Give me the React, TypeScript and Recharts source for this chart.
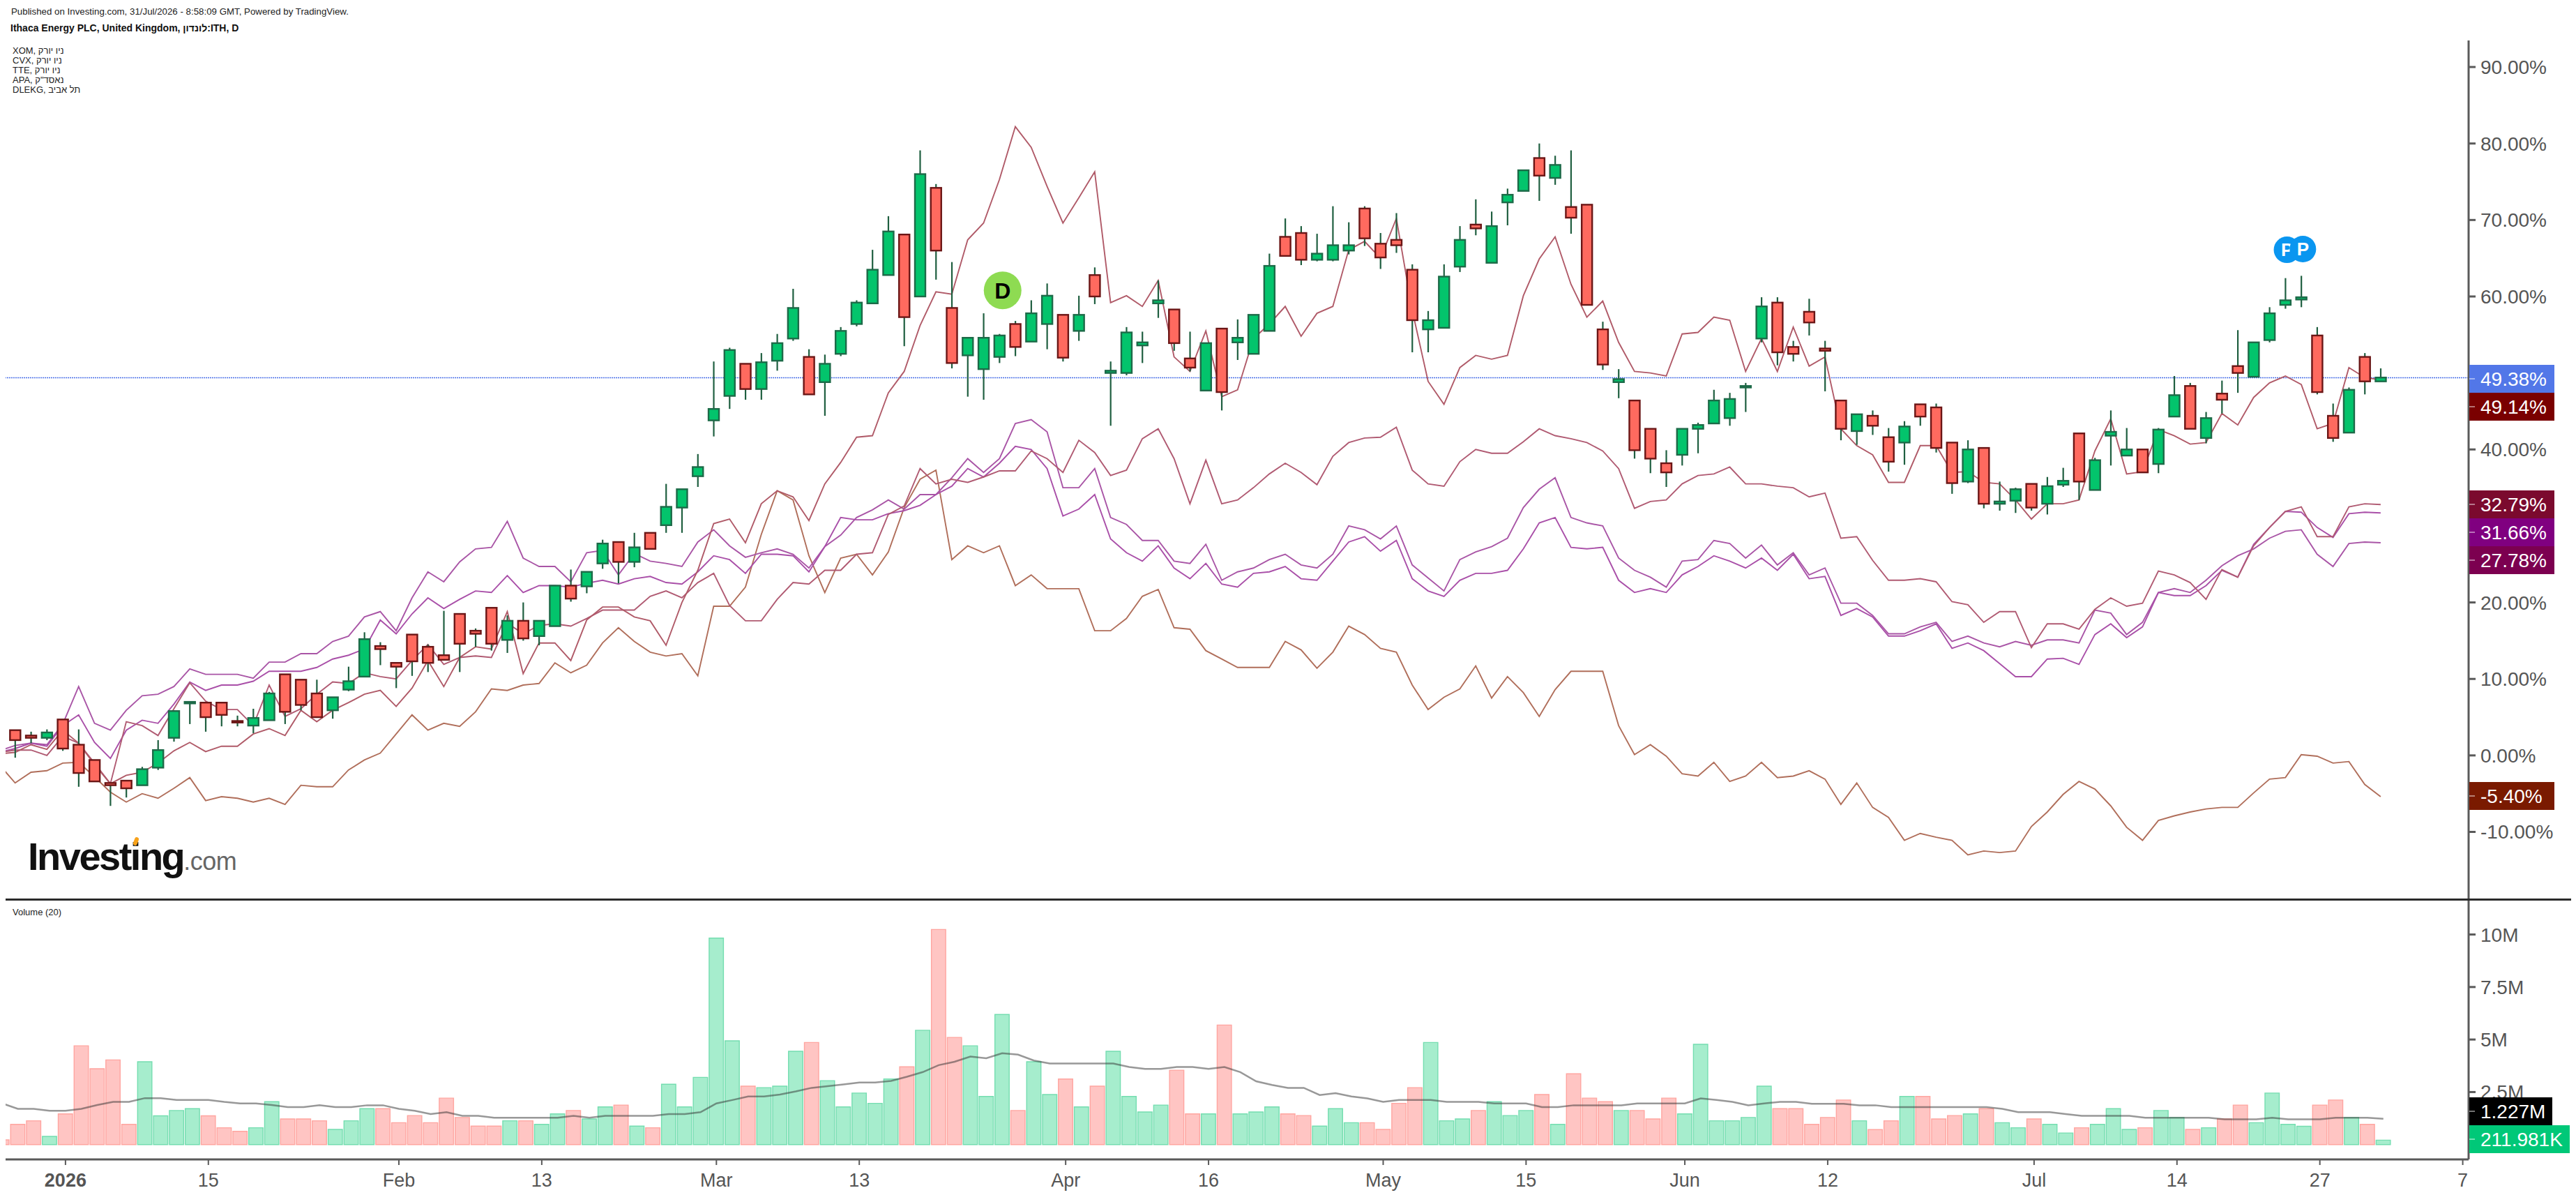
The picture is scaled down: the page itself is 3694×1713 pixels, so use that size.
import {
  ComposedChart,
  Bar,
  Line,
  Cell,
  XAxis,
  YAxis,
  ReferenceLine,
  ReferenceDot,
} from "recharts";

const FONT = '"Liberation Sans", Arial, sans-serif';
const AXIS = "#5a5a5a";
const TEXT = "#555555";
const UP = "#03c46c";
const UP_EDGE = "#1d6a48";
const DOWN = "#ff6a5f";
const DOWN_EDGE = "#6b1616";
const WICK = "#1f5f40";

// ── Candles, index 0..149 ────────────────────────────────────────
const opens = [
  3.3,2.6,2.3,4.7,1.4,-0.6,-3.6,-3.3,-3.9,-1.6,
  2.3,6.8,6.9,6.9,4.5,3.9,4.6,10.6,9.9,8.1,
  5.9,8.6,10.3,14.3,12.1,15.8,14.2,13.1,18.5,16.3,
  19.3,15.1,17.6,15.6,16.9,22.2,22.1,25.1,27.9,25.3,
  29.1,30.1,32.4,36.5,43.8,47.0,51.2,47.9,51.6,54.5,
  52.1,48.8,52.5,56.4,59.1,62.8,68.1,60.0,74.2,58.5,
  52.3,50.5,52.1,56.4,54.1,56.4,57.6,55.5,62.8,50.0,
  50.0,53.6,59.1,58.3,51.9,47.7,55.8,54.0,52.5,55.5,
  67.8,68.3,64.8,64.8,66.0,71.5,66.9,67.4,63.5,55.7,
  55.9,63.9,69.4,64.4,72.3,73.8,78.1,75.5,71.7,72.0,
  55.7,48.8,46.4,42.7,38.2,39.3,42.7,43.4,44.1,48.1,
  54.5,59.2,53.4,58.0,53.2,46.4,42.4,44.4,41.6,40.9,
  45.9,45.5,40.9,35.8,40.2,32.9,33.3,35.5,32.9,35.4,
  42.1,34.7,41.8,39.2,40.0,38.1,44.3,48.3,41.5,47.3,
  50.9,49.5,54.3,58.9,59.6,54.9,44.4,42.2,52.1,48.9,
];
const closes = [
  2.0,2.3,3.0,0.9,-2.3,-3.4,-3.9,-4.3,-1.8,0.7,
  5.8,7.0,5.0,5.3,4.3,4.9,8.1,5.7,6.6,5.0,
  7.6,9.7,15.2,13.9,11.6,12.3,12.1,12.5,14.6,15.9,
  14.6,17.6,15.3,17.6,22.2,20.5,24.0,27.7,25.3,27.2,
  27.0,32.5,34.8,37.7,45.3,53.0,47.9,51.4,53.9,58.5,
  47.2,51.2,55.5,59.2,63.5,68.5,57.3,76.0,66.0,51.3,
  54.6,54.6,54.9,53.4,57.8,60.1,52.0,57.6,60.0,50.3,
  55.3,54.0,59.5,53.9,50.7,53.9,47.5,54.6,57.6,64.0,
  65.3,64.8,65.6,66.7,66.7,67.6,65.1,66.7,56.9,56.9,
  62.6,67.4,68.9,69.2,73.3,76.5,75.8,77.2,70.3,58.9,
  51.1,49.2,39.9,38.8,37.0,42.7,43.2,46.4,46.6,48.3,
  58.7,52.7,52.5,56.6,52.9,42.7,44.6,43.1,38.4,43.0,
  44.3,40.2,35.6,40.0,32.9,33.2,34.8,32.4,35.2,35.9,
  35.8,38.6,42.3,40.0,37.0,42.6,47.1,42.7,44.1,46.5,
  50.0,54.0,57.8,59.5,59.9,47.5,41.5,47.8,48.9,49.4,
];
const highs = [
  3.3,3.1,3.4,4.7,3.4,-0.6,-3.6,-3.3,-1.5,2.0,
  5.9,7.0,6.9,6.9,5.2,6.1,8.3,10.6,9.9,9.9,
  7.6,11.6,16.1,14.8,12.1,15.8,14.5,18.9,18.5,16.6,
  19.3,18.3,20.0,17.6,22.2,24.3,24.0,28.2,27.9,29.1,
  29.1,35.5,34.8,39.4,51.5,53.3,51.2,52.6,55.1,61.0,
  53.1,52.4,56.0,59.5,66.1,70.5,68.1,79.1,74.7,64.5,
  54.6,57.8,55.1,56.8,59.5,61.7,57.6,60.1,63.8,51.5,
  56.0,55.4,62.1,58.3,55.4,53.9,55.8,57.0,57.6,65.6,
  70.2,69.2,68.2,71.8,69.7,71.8,68.3,70.9,64.2,58.1,
  64.2,69.2,72.7,71.1,74.1,76.5,80.0,78.4,79.1,72.0,
  56.7,50.5,46.4,42.7,39.9,42.7,43.5,47.8,47.4,48.7,
  59.9,59.9,54.2,59.7,54.2,46.4,44.6,45.1,42.8,43.7,
  45.9,46.0,40.9,41.2,40.2,35.8,35.0,35.5,36.4,37.6,
  42.1,38.9,45.1,42.8,40.0,42.8,49.6,48.7,44.9,49.0,
  55.6,54.0,58.6,62.4,62.7,56.0,46.0,48.1,52.6,50.6,
];
const lows = [
  -0.3,1.6,2.0,0.6,-4.1,-3.4,-6.6,-5.5,-3.9,-1.9,
  1.8,4.1,3.1,3.8,3.8,2.9,4.6,4.1,5.9,5.0,
  4.8,8.4,10.3,11.8,8.8,10.4,10.9,12.5,10.9,14.2,
  13.7,13.4,15.0,14.4,16.9,20.1,21.2,24.4,22.5,24.6,
  27.0,29.1,29.1,35.1,41.7,45.3,46.5,46.5,50.3,54.2,
  47.2,44.4,52.2,56.1,59.1,62.8,53.5,60.0,62.2,50.6,
  46.9,46.5,51.3,52.2,54.1,53.1,51.5,54.2,59.0,43.1,
  49.7,51.3,57.2,52.9,50.2,47.7,45.1,51.7,52.5,55.5,
  65.3,64.1,64.6,64.6,65.5,66.6,63.6,65.7,52.7,52.7,
  55.9,63.2,68.0,64.4,69.3,73.8,72.5,74.6,68.2,58.9,
  50.4,46.7,38.8,36.9,35.1,37.9,39.5,43.4,43.1,44.9,
  54.0,51.0,51.5,54.9,47.6,41.2,40.6,41.9,37.1,38.0,
  43.1,39.6,34.2,35.6,32.3,32.0,31.7,32.0,31.5,35.1,
  33.4,34.7,37.9,39.2,37.0,36.9,44.3,42.7,40.8,44.7,
  47.4,49.5,54.0,58.4,58.6,47.2,41.0,42.2,47.2,48.9,
];

// ── Comparison lines, index -1..149 (% change) ───────────────────
const dlekg = [
  0.2,
  0.4,1.4,0.8,3.3,1.6,-1.2,-3.7,-2.6,-2.2,-1.0,
  0.6,1.7,0.5,1.2,1.2,2.8,3.5,2.6,5.9,4.4,
  5.9,6.9,8.0,8.5,6.4,8.8,12.4,9.0,12.8,14.2,
  13.9,18.8,10.7,14.7,14.7,12.4,17.7,19.4,19.4,18.1,
  17.6,14.4,20.0,24.2,30.3,30.9,27.8,32.9,34.6,33.8,
  30.7,35.5,38.3,41.6,41.8,47.4,50.2,56.2,60.6,60.3,
  67.4,69.6,75.3,82.2,79.5,74.4,69.6,72.9,76.3,59.2,
  60.1,58.7,62.1,52.1,50.2,55.5,46.9,47.8,54.5,56.4,
  58.7,54.8,57.8,58.7,66.1,67.2,65.0,70.2,58.2,48.9,
  45.9,50.7,52.3,51.8,52.3,60.1,64.9,67.8,61.6,57.3,
  59.4,54.0,50.2,50.0,49.6,55.1,55.3,57.3,56.9,50.2,
  54.5,50.2,56.0,50.9,52.1,42.7,40.5,39.3,35.7,35.7,
  40.5,40.5,37.0,37.1,35.7,35.5,33.4,30.9,32.9,32.9,
  33.4,39.8,44.0,36.8,37.1,42.6,41.8,40.7,40.9,44.7,
  43.2,46.8,48.7,49.6,48.5,42.7,43.4,50.7,49.4,49.1,
];
const apa = [
  0.4,
  0.7,0.7,0.0,2.5,1.6,-1.0,-3.7,4.4,3.9,2.6,
  6.1,9.5,7.1,6.0,6.0,3.9,9.2,5.1,6.1,8.0,
  9.6,9.4,10.8,10.3,10.0,12.4,14.5,11.9,12.8,13.0,
  12.8,17.3,15.9,17.0,17.2,16.9,17.9,19.0,19.0,19.0,
  20.8,21.5,20.6,22.6,23.8,19.6,17.6,17.6,20.4,22.6,
  22.4,24.2,24.2,26.3,26.5,31.5,32.6,37.5,35.5,36.1,
  35.7,36.4,37.2,37.2,39.8,38.8,37.0,41.2,39.6,36.6,
  37.3,41.4,42.7,38.8,32.9,38.6,32.9,33.4,35.0,36.8,
  38.2,37.0,35.4,39.1,40.9,41.5,41.6,42.9,37.3,35.5,
  35.2,38.4,40.0,39.5,39.5,41.0,42.7,41.8,41.4,40.9,
  39.8,37.5,32.3,33.2,33.4,35.5,36.6,36.8,37.7,35.5,
  35.5,35.2,35.0,33.8,34.3,28.4,28.6,25.5,22.9,22.9,
  23.1,22.7,20.1,19.7,17.4,18.8,18.8,14.1,17.2,17.2,
  16.5,19.1,20.6,19.5,19.9,24.1,23.6,22.6,20.4,24.3,
  23.3,27.4,29.8,31.9,32.5,28.6,28.6,32.5,32.9,32.8,
];
const xom = [
  0.6,
  1.3,1.6,1.4,4.1,9.0,4.2,3.3,5.9,7.8,8.0,
  9.0,11.3,10.6,10.6,10.6,10.1,12.2,12.2,13.3,13.3,
  14.9,15.6,18.1,18.8,16.3,20.6,24.0,22.7,25.3,27.0,
  27.2,30.6,25.8,24.7,24.7,22.7,26.5,26.8,23.6,26.4,
  25.4,25.1,24.7,27.9,29.5,27.4,25.9,26.5,27.0,26.3,
  24.5,27.3,28.8,31.1,32.1,33.4,32.2,34.1,34.1,36.3,
  38.8,37.0,38.8,43.4,43.9,42.3,35.0,35.0,37.5,31.1,
  30.2,28.1,28.1,25.4,25.1,27.6,22.9,24.0,24.5,25.6,
  26.3,24.9,24.5,26.3,30.0,29.5,28.3,30.0,24.9,23.2,
  21.5,25.6,26.6,27.3,28.4,32.4,34.8,36.3,31.1,30.4,
  30.0,25.8,24.2,23.3,22.0,25.4,25.6,28.1,27.7,25.8,
  27.5,24.9,26.5,23.6,24.5,19.9,19.9,18.3,15.9,15.9,
  16.8,17.4,14.9,15.6,14.7,14.2,14.9,14.4,15.1,15.1,
  14.7,19.0,18.6,15.8,17.4,21.3,21.8,21.3,22.9,24.8,
  26.1,27.0,28.4,29.3,29.5,26.3,24.7,27.7,27.9,27.8,
];
const cvx = [
  0.4,
  0.9,1.6,1.2,3.9,5.3,1.7,-0.4,3.3,4.6,4.2,
  6.7,9.6,8.5,9.2,9.2,9.7,11.0,11.0,11.0,11.5,
  12.6,13.1,13.9,17.7,15.9,18.5,20.6,19.2,20.4,21.5,
  21.3,23.5,21.3,22.2,22.2,22.0,22.5,22.9,22.4,23.1,
  23.4,22.6,22.4,24.0,26.1,25.6,23.8,26.3,26.3,26.1,
  24.0,27.3,31.1,30.8,30.8,31.6,32.0,32.7,34.1,35.2,
  37.5,36.4,38.2,40.4,40.0,37.5,31.3,32.2,34.1,28.3,
  26.5,25.4,27.4,24.5,23.1,25.1,22.4,22.0,23.8,24.0,
  24.7,23.1,22.9,25.4,27.9,28.6,26.7,28.1,23.1,21.5,
  20.8,22.9,23.8,23.8,24.2,27.0,30.4,31.1,27.2,27.0,
  27.2,22.9,21.3,21.8,21.3,23.6,24.7,26.1,25.4,24.5,
  25.8,24.2,26.3,23.1,23.4,18.3,19.2,18.1,15.6,15.6,
  16.3,17.2,14.0,14.7,13.7,12.0,10.3,10.3,12.6,12.7,
  11.9,15.8,17.2,15.4,16.8,21.3,20.9,20.9,22.2,24.2,
  23.3,27.6,29.8,31.9,31.8,29.8,28.5,31.6,31.8,31.7,
];
const tte = [
  -1.2,
  -3.6,-2.2,-2.0,-1.0,-0.9,-2.8,-4.8,-6.1,-5.0,-5.6,
  -4.3,-2.9,-5.9,-5.4,-5.6,-6.1,-5.6,-6.4,-3.9,-4.1,
  -4.1,-1.9,-0.6,0.3,2.8,5.3,3.3,4.2,3.8,5.7,
  8.7,8.5,9.2,9.4,12.1,10.8,11.8,14.7,16.7,14.9,
  13.5,13.0,13.3,10.4,19.5,19.5,22.0,28.9,34.6,33.4,
  26.1,21.3,25.8,26.3,23.6,26.6,32.4,36.1,37.3,25.6,
  27.4,26.5,27.4,22.2,23.6,21.8,21.8,21.8,16.3,16.3,
  17.9,20.8,21.7,16.7,16.5,13.7,12.6,11.5,11.5,11.5,
  14.9,13.8,11.4,13.5,16.9,15.8,14.0,13.5,9.2,6.0,
  7.6,8.7,11.7,7.5,10.3,8.2,5.1,8.6,11.0,11.0,
  11.0,3.9,0.1,1.4,-0.1,-2.4,-2.7,-0.9,-3.4,-2.7,
  -0.9,-2.9,-2.7,-2.0,-3.1,-6.4,-3.6,-6.8,-8.1,-11.1,
  -10.2,-10.7,-11.1,-13.0,-12.5,-12.7,-12.5,-9.3,-7.4,-5.1,
  -3.4,-4.4,-6.6,-9.4,-11.1,-8.5,-7.9,-7.4,-7.0,-6.8,
  -6.8,-4.9,-3.1,-2.9,0.1,-0.1,-1.0,-0.8,-3.8,-5.4,
];

// ── Volume in millions, index -1..149 ────────────────────────────
const volume = [
  0.22,
  0.96,1.13,0.39,1.46,4.70,3.61,4.03,0.96,3.94,1.37,
  1.62,1.71,1.37,0.80,0.63,0.80,2.04,1.22,1.22,1.13,
  0.72,1.13,1.71,1.71,1.04,1.38,1.04,2.21,1.29,0.88,
  0.88,1.13,1.13,0.96,1.46,1.62,1.22,1.79,1.88,0.88,
  0.80,2.87,1.79,3.20,9.83,4.94,2.78,2.71,2.78,4.44,
  4.86,3.04,1.79,2.45,1.96,3.12,3.70,5.44,10.24,5.10,
  4.70,2.29,6.19,1.62,3.94,2.38,3.12,1.79,2.78,4.44,
  2.29,1.55,1.88,3.54,1.46,1.46,5.69,1.46,1.55,1.79,
  1.46,1.38,0.88,1.71,1.04,1.04,0.72,1.96,2.71,4.86,
  1.13,1.22,1.62,2.04,1.38,1.62,2.38,0.96,3.37,2.21,
  2.04,1.62,1.62,1.22,2.21,1.46,4.77,1.13,1.13,1.29,
  2.78,1.71,1.71,0.96,1.29,2.12,1.13,0.71,1.13,2.29,
  2.29,1.22,1.38,1.46,1.71,1.04,0.80,1.22,0.96,0.55,
  0.80,0.96,1.71,0.72,0.80,1.62,1.29,0.72,0.80,1.22,
  1.88,1.04,2.45,0.96,0.87,1.88,2.12,1.29,0.96,0.21,
];
const volumeMa = [
  1.96,
  1.70,1.70,1.61,1.61,1.70,1.88,2.03,2.03,2.21,2.21,
  2.12,2.12,2.12,2.03,1.96,1.96,1.88,1.78,1.78,1.87,
  1.78,1.78,1.87,1.87,1.70,1.61,1.45,1.54,1.37,1.37,
  1.28,1.28,1.28,1.28,1.28,1.37,1.28,1.37,1.37,1.37,
  1.37,1.45,1.45,1.54,1.96,2.12,2.29,2.29,2.38,2.53,
  2.70,2.78,2.86,2.95,2.95,3.03,3.23,3.45,3.78,3.94,
  4.19,4.11,4.35,4.28,4.00,3.86,3.86,3.86,3.86,3.86,
  3.69,3.60,3.60,3.69,3.69,3.60,3.69,3.45,3.01,2.84,
  2.70,2.70,2.36,2.45,2.29,2.20,2.03,2.12,2.12,2.12,
  2.03,2.03,2.03,1.96,1.96,1.96,1.78,1.78,1.87,1.87,
  1.87,1.87,1.96,1.96,1.96,1.96,2.20,2.12,2.03,1.87,
  1.96,2.03,2.03,1.94,1.94,1.94,1.87,1.87,1.78,1.78,
  1.78,1.78,1.78,1.78,1.78,1.70,1.54,1.54,1.54,1.45,
  1.37,1.37,1.37,1.37,1.28,1.28,1.28,1.28,1.28,1.20,
  1.20,1.20,1.28,1.20,1.20,1.20,1.28,1.28,1.28,1.23,
];

// ── Axis ticks and labels ────────────────────────────────────────
// 50% and 30% sit behind the value badges in the original, so no text for them
const pctTicks = [90, 80, 70, 60, 40, 20, 10, 0, -10];
const volTicks = [2.5, 5, 7.5, 10];
const dateTicks = [3, 12, 24, 33, 44, 53, 66, 75, 86, 95, 105, 114, 127, 136, 145, 154];
const dateLabels = ["2026", "15", "Feb", "13", "Mar", "13", "Apr", "16", "May", "15", "Jun", "12", "Jul", "14", "27", "7"];
const lastPrice = 49.38;

const legendRows = ["XOM, ניו יורק", "CVX, ניו יורק", "TTE, ניו יורק", 'APA, נאסד"ק', "DLEKG, תל אביב"];

const priceBadgeText = ["49.38%", "49.14%", "32.79%", "31.66%", "27.78%", "-5.40%"];
const priceBadgeFill = ["#5277e8", "#7a0000", "#7b0a2e", "#800080", "#7c0050", "#7a1a00"];
const priceBadgeTop = [523, 563, 703, 743, 783, 1121];

const priceData = volume.map((_, k) => ({
  i: k - 1,
  open: opens[k - 1],
  high: highs[k - 1],
  low: lows[k - 1],
  close: closes[k - 1],
  dlekg: dlekg[k],
  apa: apa[k],
  xom: xom[k],
  cvx: cvx[k],
  tte: tte[k],
}));

const volumeData = volume.map((v, k) => ({
  i: k - 1,
  volume: v,
  ma: volumeMa[k],
  up: k > 0 && closes[k - 1] >= opens[k - 1],
}));

function Candle(props: any) {
  const { x, y, width, height, payload } = props;
  if (payload == null || payload.open == null) return null;
  const { open, high, low, close } = payload;
  const up = close >= open;
  const perUnit = height / (high - low);
  const cx = x + width / 2;
  const top = y + (high - Math.max(open, close)) * perUnit;
  const bottom = y + (high - Math.min(open, close)) * perUnit;
  return (
    <g>
      <line x1={cx} x2={cx} y1={y} y2={y + height} stroke={WICK} strokeWidth={2.2} />
      <rect
        x={x + 1}
        y={top}
        width={width - 2}
        height={Math.max(bottom - top, 1.5)}
        fill={up ? UP : DOWN}
        stroke={up ? UP_EDGE : DOWN_EDGE}
        strokeWidth={2.4}
      />
    </g>
  );
}

function DateTick(props: any) {
  const { x, y, payload } = props;
  const label = dateLabels[dateTicks.indexOf(payload.value)];
  return (
    <text
      x={x}
      y={y + 26}
      dy="0.1em"
      textAnchor="middle"
      fill={TEXT}
      fontSize={27}
      fontFamily={FONT}
      fontWeight={label === "2026" ? 700 : 400}
    >
      {label}
    </text>
  );
}

function EventDot({ cx, cy, fill, color, label }: any) {
  return (
    <g>
      <circle cx={cx} cy={cy} r={cy > 400 ? 27 : 19} fill={fill} />
      <text
        x={cx}
        y={cy}
        dy="0.36em"
        textAnchor="middle"
        fontSize={cy > 400 ? 32 : 26}
        fontWeight={700}
        fontFamily={FONT}
        fill={color}
      >
        {label}
      </text>
    </g>
  );
}

function Badge({ top, fill, text, width = 122 }: { top: number; fill: string; text: string; width?: number }) {
  return (
    <div
      style={{
        position: "absolute",
        left: 3541,
        top,
        width,
        height: 40,
        background: fill,
        color: "#fff",
        fontFamily: FONT,
        fontSize: 28,
        lineHeight: "41px",
        paddingLeft: 16,
        boxSizing: "border-box",
        whiteSpace: "nowrap",
      }}
    >
      <div style={{ position: "absolute", left: 0, top: 19, width: 8, height: 2, background: "rgba(255,255,255,0.45)" }} />
      {text}
    </div>
  );
}

export default function App() {
  return (
    <div style={{ position: "absolute", left: 0, top: 0, width: 3694, height: 1713, background: "#fff", overflow: "hidden" }}>
      {/* ── Price pane ── */}
      <div style={{ position: "absolute", left: 0, top: 0 }}>
        <ComposedChart width={3694} height={1289} data={priceData} margin={{ top: 58, right: 0, bottom: 0, left: 8 }}>
          <XAxis dataKey="i" type="number" domain={[-0.602, 154.54]} allowDataOverflow hide />
          <YAxis
            orientation="right"
            width={154}
            domain={[-18.8, 93.47]}
            allowDataOverflow
            ticks={pctTicks}
            interval={0}
            tickFormatter={(v: number) => `${v.toFixed(2)}%`}
            tick={{ fontSize: 28, fill: TEXT, fontFamily: FONT }}
            tickSize={10}
            tickMargin={7}
            axisLine={{ stroke: AXIS, strokeWidth: 3 }}
            tickLine={{ stroke: AXIS, strokeWidth: 3 }}
          />
          <ReferenceLine y={lastPrice} stroke="#4a6fe8" strokeWidth={1.4} strokeDasharray="2 1" />
          <Line isAnimationActive={false} dataKey="tte" stroke="#b06e5a" strokeWidth={1.9} dot={false} />
          <Line isAnimationActive={false} dataKey="xom" stroke="#a955a6" strokeWidth={1.9} dot={false} />
          <Line isAnimationActive={false} dataKey="cvx" stroke="#a94fa8" strokeWidth={1.9} dot={false} />
          <Line isAnimationActive={false} dataKey="apa" stroke="#b05a72" strokeWidth={1.9} dot={false} />
          <Line isAnimationActive={false} dataKey="dlekg" stroke="#b05a68" strokeWidth={1.9} dot={false} />
          <Bar
            isAnimationActive={false}
            dataKey={(d: any) => (d.open == null ? null : [d.low, d.high])}
            barSize={17}
            shape={<Candle />}
            zIndex={450}
          />
          <ReferenceDot
            x={62.2}
            y={60.8}
            ifOverflow="visible"
            shape={(p: any) => <EventDot {...p} fill="#8edb52" color="#000" label="D" />}
          />
          <ReferenceDot
            x={143.1}
            y={66.1}
            ifOverflow="visible"
            shape={(p: any) => <EventDot {...p} fill="#0a96f0" color="#fff" label="P" />}
          />
          <ReferenceDot
            x={144.1}
            y={66.2}
            ifOverflow="visible"
            shape={(p: any) => <EventDot {...p} fill="#0a96f0" color="#fff" label="P" />}
          />
        </ComposedChart>
      </div>

      {/* ── Volume pane ── */}
      <div style={{ position: "absolute", left: 0, top: 1289 }}>
        <ComposedChart width={3694} height={424} data={volumeData} margin={{ top: 0, right: 0, bottom: 0, left: 8 }}>
          <XAxis
            dataKey="i"
            type="number"
            domain={[-0.773, 154.37]}
            allowDataOverflow
            ticks={dateTicks}
            interval={0}
            height={51}
            tick={<DateTick />}
            tickSize={8}
            axisLine={{ stroke: AXIS, strokeWidth: 3 }}
            tickLine={{ stroke: AXIS, strokeWidth: 2 }}
          />
          <YAxis
            orientation="right"
            width={154}
            domain={[-0.708, 11.68]}
            allowDataOverflow
            ticks={volTicks}
            interval={0}
            tickFormatter={(v: number) => `${v}M`}
            tick={{ fontSize: 28, fill: TEXT, fontFamily: FONT }}
            tickSize={10}
            tickMargin={7}
            axisLine={{ stroke: AXIS, strokeWidth: 3 }}
            tickLine={{ stroke: AXIS, strokeWidth: 3 }}
          />
          <Bar isAnimationActive={false} dataKey="volume" barSize={23} strokeWidth={1.4}>
            {volumeData.map((d, k) => (
              <Cell key={k} fill={d.up ? "#a6edcd" : "#ffc5c3"} stroke={d.up ? "#74ddb0" : "#ffa5a0"} />
            ))}
          </Bar>
          <Line isAnimationActive={false} dataKey="ma" stroke="rgba(50,50,50,0.5)" strokeWidth={2.5} dot={false} />
        </ComposedChart>
      </div>

      {/* ── Pane separator ── */}
      <div style={{ position: "absolute", left: 8, top: 1288, width: 3679, height: 3, background: "#2b2b2b" }} />

      {/* ── Header text ── */}
      <div style={{ position: "absolute", left: 16, top: 9, fontFamily: FONT, fontSize: 13.3, color: "#222", whiteSpace: "nowrap" }}>
        Published on Investing.com, 31/Jul/2026 - 8:58:09 GMT, Powered by TradingView.
      </div>
      <div style={{ position: "absolute", left: 15, top: 32, fontFamily: FONT, fontSize: 14, fontWeight: 700, color: "#111", whiteSpace: "nowrap" }}>
        Ithaca Energy PLC, United Kingdom, לונדון:ITH, D
      </div>
      {legendRows.map((row, k) => (
        <div
          key={row}
          style={{ position: "absolute", left: 18, top: 66 + k * 14, fontFamily: FONT, fontSize: 13, lineHeight: "14px", color: "#222", whiteSpace: "nowrap" }}
        >
          {row}
        </div>
      ))}
      <div style={{ position: "absolute", left: 18, top: 1300, fontFamily: FONT, fontSize: 13, color: "#222", whiteSpace: "nowrap" }}>
        Volume (20)
      </div>

      {/* ── Logo ── */}
      <div style={{ position: "absolute", left: 40, top: 1196, fontFamily: FONT, whiteSpace: "nowrap", lineHeight: "64px" }}>
        <span style={{ fontSize: 56, fontWeight: 700, letterSpacing: -2.5, color: "#111" }}>Investing</span>
        <span style={{ fontSize: 36, color: "#666", letterSpacing: -0.5 }}>.com</span>
      </div>
      <div style={{ position: "absolute", left: 192, top: 1200, width: 6, height: 12, borderRadius: 4, background: "#f7a21b", transform: "rotate(20deg)" }} />

      {/* ── Last value badges ── */}
      {priceBadgeText.map((t, k) => (
        <Badge key={t} top={priceBadgeTop[k]} fill={priceBadgeFill[k]} text={t} />
      ))}
      <Badge top={1573} fill="#000" text="1.227M" width={119} />
      <Badge top={1613} fill="#00c878" text="211.981K" width={144} />
    </div>
  );
}
